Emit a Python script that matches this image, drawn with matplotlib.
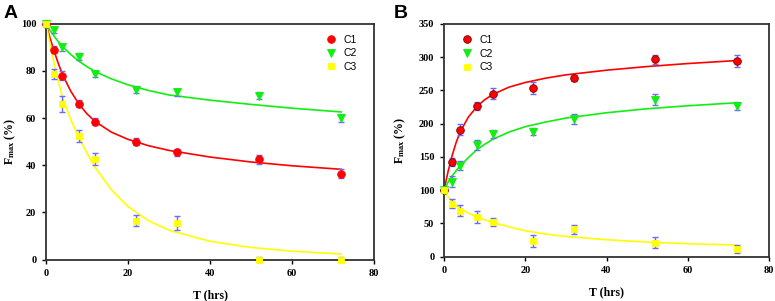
import numpy as np
import matplotlib
matplotlib.use('Agg')
import matplotlib.pyplot as plt

plt.rcParams['mathtext.fontset'] = 'custom'
plt.rcParams['mathtext.rm'] = 'Liberation Serif:bold'
plt.rcParams['mathtext.bf'] = 'Liberation Serif:bold'

# Tiempos de medida (horas)
t = [0, 2, 4, 8, 12, 22, 32, 52, 72]

# Panel A - datos medidos
a_c1 = [100, 89, 78, 66, 58.5, 50, 45.5, 42.5, 36.5]
a_c2 = [100, 97.5, 90, 86, 78.5, 72, 71, 69.5, 60]
a_c3 = [100, 78.5, 66, 52.5, 42.5, 16.5, 15.5, 0, 0]
a_c1_err = [0, 1.5, 1.8, 1.5, 1.5, 1.5, 1.5, 2, 1.9]
a_c2_err = [0, 1.3, 1.6, 1.5, 1.3, 1.5, 1.5, 1.5, 1.6]
a_c3_err = [0, 2.1, 3.4, 2.5, 2.5, 2.3, 3.1, 1, 1]

# Panel B - datos medidos
b_c1 = [100, 142, 191, 226, 245, 253, 269, 297, 295]
b_c2 = [100, 113, 137, 168, 184, 188, 207, 236, 227]
b_c3 = [100, 80, 69, 59, 52, 24, 41, 21, 11]
b_c1_err = [0, 6, 8, 6, 8, 9, 5, 7, 9]
b_c2_err = [0, 8, 7, 7, 6, 5, 7, 8, 6]
b_c3_err = [0, 7, 8, 9, 6, 9, 7, 8, 6]

# Curvas de ajuste
t_fit = [0, 1, 2, 3, 4, 6, 8, 10, 12, 16, 20, 25, 30, 40, 50, 60, 72]
a_c1_fit = [100, 93.8, 88.2, 83.1, 78.5, 71.5, 66, 61.8, 58.5, 54, 51, 48.3,
            46.3, 43.5, 41.4, 39.8, 38.3]
a_c2_fit = [100, 97.1, 94.6, 92.4, 90.4, 87, 84.1, 81.8, 79.7, 76.6, 74.1,
            71.7, 69.8, 67.6, 65.8, 64.2, 62.6]
a_c3_fit = [100, 91, 83, 75.5, 69, 59.5, 51.8, 45, 39, 29.5, 22.5, 16.5,
            12.5, 7.8, 5.2, 3.6, 2.4]
b_c1_fit = [100, 128, 152, 172, 188, 210, 225, 236, 244, 255, 262, 268.5,
            273.5, 280.5, 286, 290.5, 295]
b_c2_fit = [100, 112, 121.5, 129.5, 136.5, 149, 160.5, 169, 176.5, 187.5,
            195.5, 202.5, 208.5, 216.5, 222.5, 227, 231.5]
b_c3_fit = [100, 90, 82.5, 77, 72.5, 65.5, 60, 55.5, 51.5, 45, 39, 34, 30.5,
            25.5, 22, 19.5, 17.5]

labels = ['C1', 'C2', 'C3']
colores = ['#ff0000', '#11ee11', '#ffff00']
marcas = ['o', 'v', 's']
serif = 'Liberation Serif'


def panel(ax, datos, errores, ajustes, ylim, yticks, edge_c1, ylab_x):
    for i in range(3):
        ax.plot(t_fit, ajustes[i], color=colores[i], lw=1.2, zorder=2)
    for i in range(3):
        ax.errorbar(t[1:], datos[i][1:], yerr=errores[i][1:], fmt='none',
                    ecolor='#6a6aff', elinewidth=1, capsize=2.5,
                    capthick=1, zorder=3)
    for i in range(3):
        ec = edge_c1 if i == 0 else colores[i]
        ax.plot(t, datos[i], ls='none', marker=marcas[i], ms=5.5 if i < 2 else 5,
                color=colores[i], mec=ec, mew=0.6, label=labels[i],
                zorder=4, clip_on=False)
    ax.set_xlim(0, 80)
    ax.set_ylim(*ylim)
    ax.set_xticks([0, 20, 40, 60, 80])
    ax.set_yticks(yticks)
    for s in ax.spines.values():
        s.set_color('#333333')
        s.set_linewidth(1.3)
    ax.tick_params(direction='out', length=3, width=1, top=False, right=False,
                   pad=4)
    for lb in ax.get_xticklabels() + ax.get_yticklabels():
        lb.set_fontfamily(serif)
        lb.set_fontweight('bold')
        lb.set_fontsize(7.5)
    ax.set_xlabel('T (hrs)', fontfamily=serif, fontweight='bold', fontsize=8.5,
                  labelpad=8)
    ax.set_ylabel(r'$\mathrm{F_{max}}$ (%)', fontfamily=serif,
                  fontweight='bold', fontsize=8.5, va='center')
    ax.yaxis.set_label_coords(ylab_x, 0.5)


fig = plt.figure(figsize=(7.75, 3.01), dpi=100)
ax1 = fig.add_axes([0.0594, 0.1372, 0.4232, 0.7841])
ax2 = fig.add_axes([0.5729, 0.1472, 0.4194, 0.7731])

panel(ax1, [a_c1, a_c2, a_c3], [a_c1_err, a_c2_err, a_c3_err],
      [a_c1_fit, a_c2_fit, a_c3_fit], (0, 100), [0, 20, 40, 60, 80, 100],
      '#ff0000', -0.11)
panel(ax2, [b_c1, b_c2, b_c3], [b_c1_err, b_c2_err, b_c3_err],
      [b_c1_fit, b_c2_fit, b_c3_fit], (0, 350),
      [0, 50, 100, 150, 200, 250, 300, 350], '#7a0000', -0.135)

ax1.legend(loc='upper right', bbox_to_anchor=(0.965, 0.975), frameon=False,
           prop={'family': 'Liberation Sans', 'size': 7.5}, handletextpad=0.6,
           labelspacing=0.35, handlelength=1.2, borderpad=0)
ax2.legend(loc='upper left', bbox_to_anchor=(0.035, 0.975), frameon=False,
           prop={'family': 'Liberation Sans', 'size': 7.5}, handletextpad=0.6,
           labelspacing=0.35, handlelength=1.2, borderpad=0)

fig.text(0.005, 0.985, 'A', fontfamily='Liberation Sans', fontweight='bold',
         fontsize=14, va='top', ha='left')
fig.text(0.508, 0.985, 'B', fontfamily='Liberation Sans', fontweight='bold',
         fontsize=14, va='top', ha='left')

fig.savefig('out.png', dpi=100)
